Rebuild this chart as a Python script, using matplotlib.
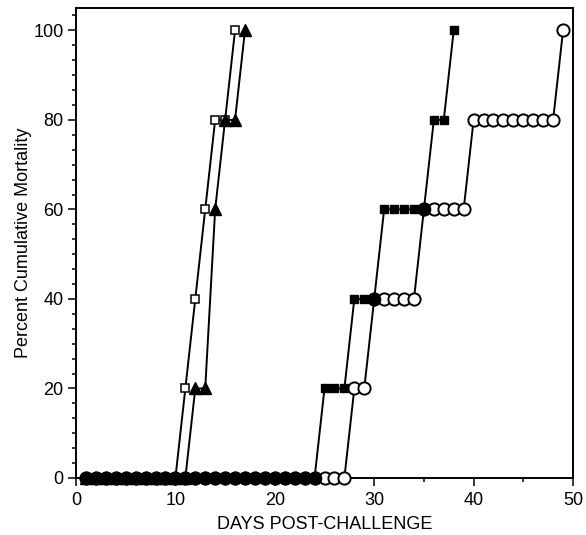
import numpy as np
import matplotlib
matplotlib.use("Agg")
import matplotlib.pyplot as plt
from matplotlib.ticker import MultipleLocator, AutoMinorLocator

plt.rcParams['font.family'] = ['Liberation Sans', 'DejaVu Sans']

# Data (percent cumulative mortality by day post-challenge)
days_open_sq = list(range(1, 17))
open_sq = [0, 0, 0, 0, 0, 0, 0, 0, 0, 0, 20, 40, 60, 80, 80, 100]

days_tri = list(range(1, 18))
tri = [0, 0, 0, 0, 0, 0, 0, 0, 0, 0, 0, 20, 20, 60, 80, 80, 100]

days_fill_sq = list(range(1, 39))
fill_sq = [0, 0, 0, 0, 0, 0, 0, 0, 0, 0,
           0, 0, 0, 0, 0, 0, 0, 0, 0, 0,
           0, 0, 0, 0, 20, 20, 20, 40, 40, 40,
           60, 60, 60, 60, 60, 80, 80, 100]

days_open_circ = list(range(1, 50))
open_circ = [0, 0, 0, 0, 0, 0, 0, 0, 0, 0,
             0, 0, 0, 0, 0, 0, 0, 0, 0, 0,
             0, 0, 0, 0, 0, 0, 0, 20, 20, 40,
             40, 40, 40, 40, 60, 60, 60, 60, 60, 80,
             80, 80, 80, 80, 80, 80, 80, 80, 100]

xticks = [0, 10, 20, 30, 40, 50]
yticks = [0, 20, 40, 60, 80, 100]

fig = plt.figure(figsize=(5.86, 5.35), dpi=100)
ax = fig.add_axes([76/586, 1-478/535, (573-76)/586, (478-8)/535])

lw = 1.4
ax.plot(days_open_circ, open_circ, color='black', lw=lw, marker='o', ms=8.8,
        mfc='white', mec='black', mew=1.4, zorder=3, clip_on=False)
ax.plot(days_fill_sq, fill_sq, color='black', lw=lw, marker='s', ms=5.8,
        mfc='black', mec='black', zorder=4, clip_on=False)
ax.plot(days_open_sq, open_sq, color='black', lw=lw, marker='s', ms=5.8,
        mfc='white', mec='black', mew=1.1, zorder=5, clip_on=False)
ax.plot(days_tri, tri, color='black', lw=lw, marker='^', ms=9,
        mfc='black', mec='black', zorder=6, clip_on=False)

# Where the filled-square and open-circle groups coincide the symbols merge
fd = np.array(days_fill_sq)
fv = np.array(fill_sq)
cv = np.array(open_circ)[:len(fd)]
same = fv == cv
ax.plot(fd[same], fv[same], ls='none', marker='o', ms=8.8, mfc='black',
        mec='black', zorder=7, clip_on=False)

ax.set_xlim(0, 50)
ax.set_ylim(0, 105)
ax.set_xticks(xticks)
ax.set_yticks(yticks)
ax.xaxis.set_minor_locator(MultipleLocator(5))
ax.yaxis.set_minor_locator(AutoMinorLocator(6))
ax.tick_params(axis='both', which='major', direction='out', length=6,
               width=1.1, labelsize=13, colors='black')
ax.tick_params(axis='both', which='minor', direction='out', length=3,
               width=1.1)
ax.tick_params(axis='y', which='major', pad=3)
ax.tick_params(axis='x', which='major', pad=4)
for s in ax.spines.values():
    s.set_linewidth(1.4)

ax.set_xlabel('DAYS POST-CHALLENGE', fontsize=13, labelpad=5)
ax.set_ylabel('Percent Cumulative Mortality', fontsize=13, labelpad=1)

fig.savefig('out.png', dpi=100)
